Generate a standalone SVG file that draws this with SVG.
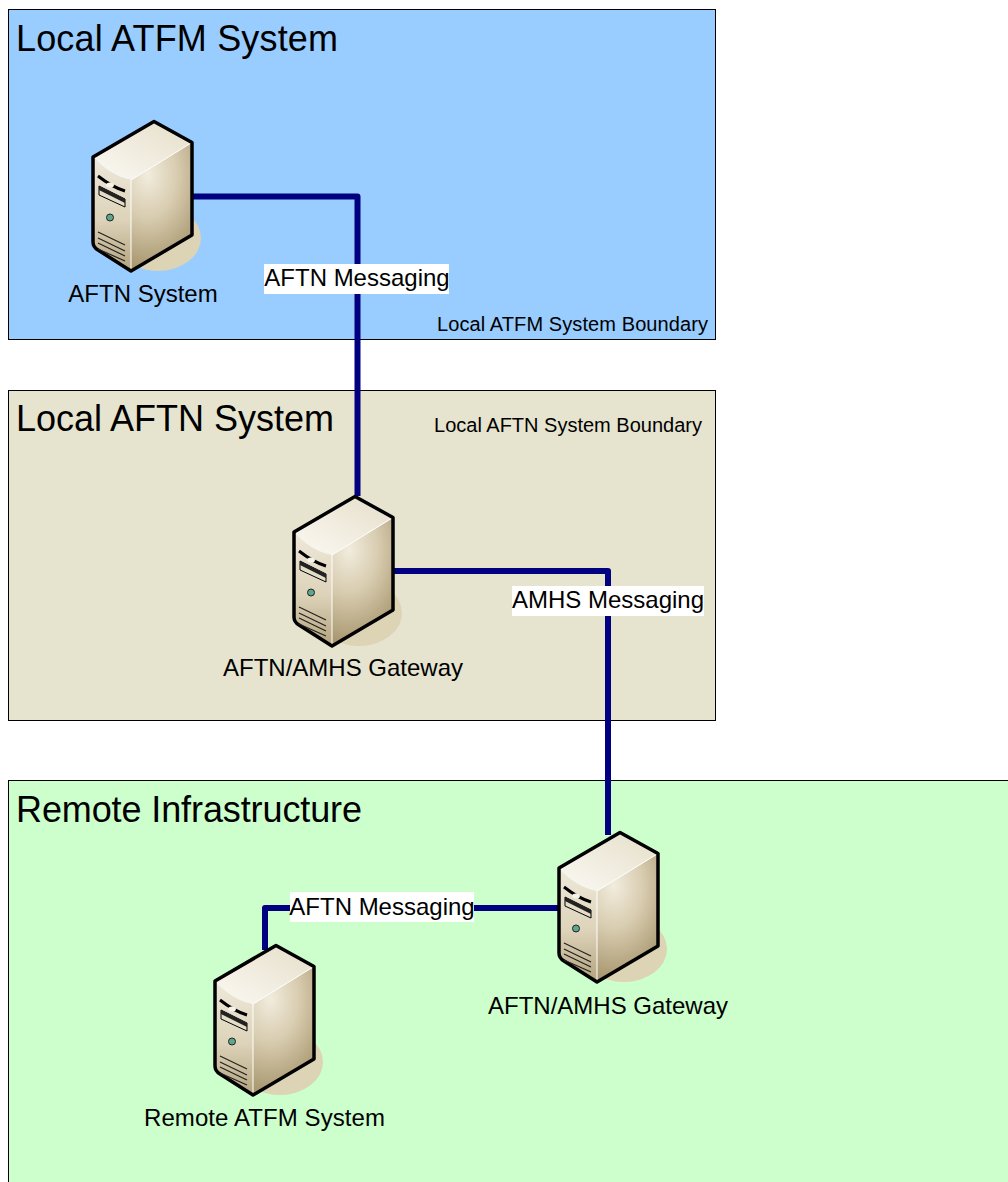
<svg xmlns="http://www.w3.org/2000/svg" width="1008" height="1182" viewBox="0 0 1008 1182">
<style>
text{font-family:"Liberation Sans",Arial,sans-serif;fill:#000}
.title{font-size:36px}
.lab{font-size:24px;text-anchor:middle}
.bound{font-size:20px}
.box{stroke:#000;stroke-width:1}
.wire{fill:none;stroke:#000080;stroke-width:6;stroke-linejoin:round}
.wl{fill:#fff}
</style>
<defs>
<radialGradient id="side" gradientUnits="userSpaceOnUse" cx="148" cy="175" r="85" gradientTransform="translate(148 175) scale(.75 1.1) translate(-148 -175)"><stop offset="0" stop-color="#f1ecdd"/><stop offset=".45" stop-color="#d9cdb1"/><stop offset="1" stop-color="#a8976f"/></radialGradient>
<linearGradient id="front" x1="0" x2="0" y1="0" y2="1"><stop offset="0" stop-color="#efe9da"/><stop offset=".55" stop-color="#ddd3ba"/><stop offset="1" stop-color="#b3a27c"/></linearGradient>
<linearGradient id="top" x1="0" x2="1" y1="1" y2="0"><stop offset="0" stop-color="#fbf9f4"/><stop offset="1" stop-color="#e5dec8"/></linearGradient>
<g id="server">
<ellipse cx="158" cy="238" rx="43" ry="33" fill="#ddd3b5"/>
<path d="M131 180 L192 142.500 V235 L131 271 Z" fill="url(#side)"/>
<path d="M93 157 Q110 176 131 180 V271 L98 250 Q93 247 93 242 Z" fill="url(#front)"/>
<path d="M93 157 L154 121.500 L192 142.500 L131 180 Q110 176 93 157 Z" fill="url(#top)"/>
<path d="M131 180 L192 142.500 M131 180 V271" fill="none" stroke="#fff" stroke-width="1"/>
<path d="M93 157 L154 121.500 L192 142.500 V235 L131 271 L98 250 Q93 247 93 242 Z" fill="none" stroke="#000" stroke-width="3.500" stroke-linejoin="round"/>
<path d="M98 176 Q112 187 125 191" fill="none" stroke="#000" stroke-width="3"/>
<ellipse cx="110" cy="185" rx="4" ry="2.500" fill="#f5f2e8"/>
<path d="M99 186 L125 199 V207 L99 195 Z" fill="#e4dcc6" stroke="#000" stroke-width="1"/>
<path d="M99 186 L125 199 V203 L99 190 Z" fill="#222"/>
<circle cx="110" cy="217.500" r="3.500" fill="#5da78e" stroke="#222" stroke-width="1"/>
<path d="M98 232 L125 245 M98 238 L125 251 M98 243 L125 256 M98 249 L125 261" fill="none" stroke="#222" stroke-width="1.200"/>
</g>
</defs>
<g id="local-atfm-boundary">
<rect class="box" x="8.500" y="9.500" width="707" height="330" fill="#99ccff"/>
<text class="title" x="16" y="51" textLength="322">Local ATFM System</text>
<text class="bound" x="437" y="331" textLength="271">Local ATFM System Boundary</text>
</g>
<g id="local-aftn-boundary">
<rect class="box" x="8.500" y="390.500" width="707" height="330" fill="#e6e4cf"/>
<text class="title" x="16" y="431" textLength="318">Local AFTN System</text>
<text class="bound" x="434" y="432" textLength="268">Local AFTN System Boundary</text>
</g>
<g id="remote-boundary">
<rect class="box" x="8.500" y="780.500" width="1010" height="420" fill="#ccffcc"/>
<text class="title" x="16" y="822" textLength="346">Remote Infrastructure</text>
</g>
<g id="connectors">
<path class="wire" d="M192 196.500 H357.500 V496"/>
<path class="wire" d="M393 571 H608 V835"/>
<path class="wire" d="M558 908 H265 V950"/>
</g>
<g id="aftn-messaging-1"><rect class="wl" x="264" y="264" width="185" height="30"/><text class="lab" x="357" y="286">AFTN Messaging</text></g>
<g id="amhs-messaging"><rect class="wl" x="512" y="586" width="192" height="30"/><text class="lab" x="608" y="608">AMHS Messaging</text></g>
<g id="aftn-messaging-2"><rect class="wl" x="290" y="892" width="184" height="30"/><text class="lab" x="382" y="915">AFTN Messaging</text></g>
<g id="aftn-system"><use href="#server"/><text class="lab" x="143" y="302">AFTN System</text></g>
<g id="gateway-local"><use href="#server" x="201" y="375"/><text class="lab" x="343" y="676">AFTN/AMHS Gateway</text></g>
<g id="gateway-remote"><use href="#server" x="466" y="711"/><text class="lab" x="608" y="1014">AFTN/AMHS Gateway</text></g>
<g id="remote-atfm"><use href="#server" x="122" y="824"/><text class="lab" x="264.500" y="1126" textLength="241">Remote ATFM System</text></g>
</svg>
